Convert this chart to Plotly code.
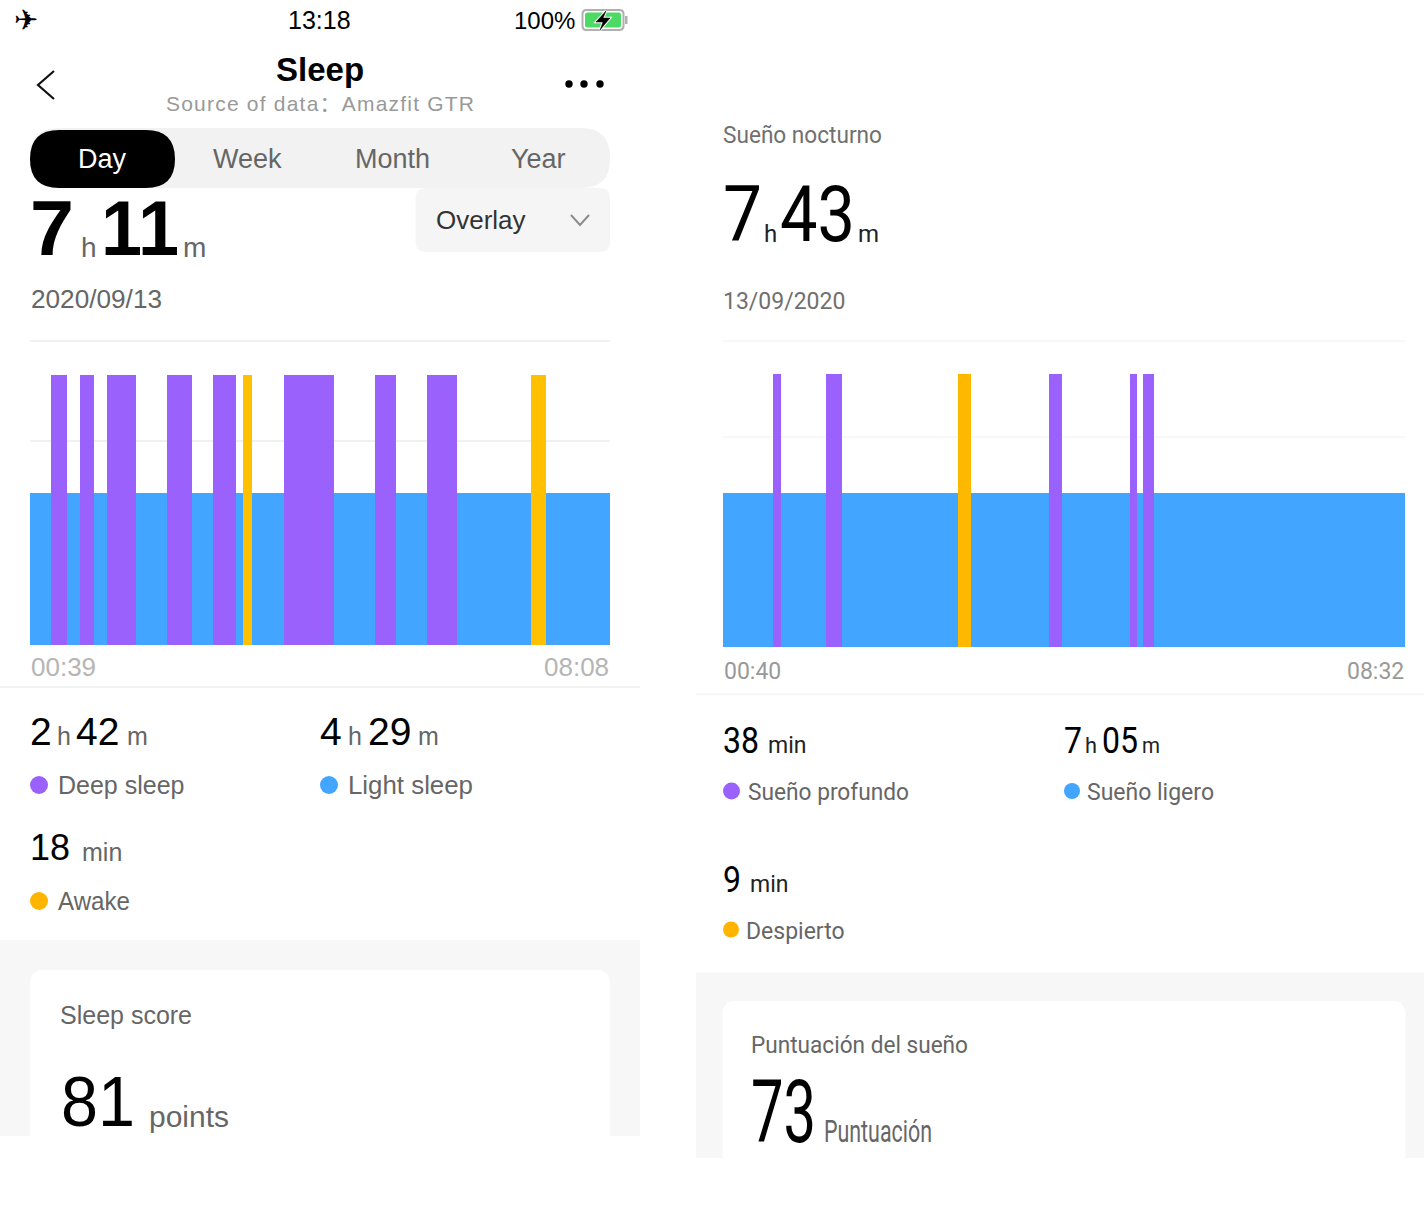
import json
import plotly.graph_objects as go

W, H = 1424, 1216

# ---- left chart data (clock minutes after midnight) ----
left_range = [39, 488]
left_ticks = ["00:39", "08:08"]
left_light_start = [39]
left_light_end = [488]
left_deep_start = [55.3, 77.7, 98.5, 145.0, 180.7, 235.6, 306.0, 346.3]
left_deep_end = [67.6, 88.5, 121.0, 164.3, 198.4, 274.3, 322.3, 369.6]
left_awake_start = [203.8, 426.8]
left_awake_end = [210.7, 438.5]
left_levels = {"light": 1.5, "deep": 2.665, "awake": 2.665}
left_grid = [2.018, 3]

# ---- right chart data ----
right_range = [40, 512]
right_ticks = ["00:40", "08:32"]
right_light_start = [40]
right_light_end = [512]
right_deep_start = [74.9, 111.3, 265.6, 321.5, 330.5]
right_deep_end = [80.0, 122.5, 274.6, 326.4, 338.5]
right_awake_start = [202.4]
right_awake_end = [211.6]
right_levels = {"light": 1.507, "deep": 2.68, "awake": 2.68}
right_grid = [2.06, 3]

PURPLE, BLUE, YELLOW = "#9B61FD", "#42A5FF", "#FFC000"
L_FONT = "Liberation Sans"
R_FONT = "Roboto"


def px(x):
    return x / W


def py(y):
    return 1 - y / H


fig = go.Figure()


def add_bars(starts, ends, level, color, name, xa, ya):
    fig.add_trace(go.Bar(
        x=starts, y=[level] * len(starts), width=[e - s for s, e in zip(starts, ends)],
        offset=0, marker=dict(color=color, line=dict(width=0)), name=name,
        xaxis=xa, yaxis=ya, showlegend=False))


add_bars(left_light_start, left_light_end, left_levels["light"], BLUE, "Light sleep", "x", "y")
add_bars(left_deep_start, left_deep_end, left_levels["deep"], PURPLE, "Deep sleep", "x", "y")
add_bars(left_awake_start, left_awake_end, left_levels["awake"], YELLOW, "Awake", "x", "y")
add_bars(right_light_start, right_light_end, right_levels["light"], BLUE, "Sueño ligero", "x2", "y2")
add_bars(right_deep_start, right_deep_end, right_levels["deep"], PURPLE, "Sueño profundo", "x2", "y2")
add_bars(right_awake_start, right_awake_end, right_levels["awake"], "#FFB800", "Despierto", "x2", "y2")

shapes = []


def rrect(x0, y0, x1, y1, r, fill):
    a = lambda x: f"{px(x):.5f}"
    b = lambda y: f"{py(y):.5f}"
    path = (f"M {a(x0 + r)} {b(y0)} L {a(x1 - r)} {b(y0)} Q {a(x1)} {b(y0)} {a(x1)} {b(y0 + r)} "
            f"L {a(x1)} {b(y1 - r)} Q {a(x1)} {b(y1)} {a(x1 - r)} {b(y1)} "
            f"L {a(x0 + r)} {b(y1)} Q {a(x0)} {b(y1)} {a(x0)} {b(y1 - r)} "
            f"L {a(x0)} {b(y0 + r)} Q {a(x0)} {b(y0)} {a(x0 + r)} {b(y0)} Z")
    shapes.append(dict(type="path", path=path, xref="paper", yref="paper", fillcolor=fill,
                       line=dict(width=0), layer="below"))


def rect(x0, y0, x1, y1, fill):
    shapes.append(dict(type="rect", xref="paper", yref="paper", x0=px(x0), x1=px(x1), y0=py(y1), y1=py(y0),
                       fillcolor=fill, line=dict(width=0), layer="below"))


def dot(cx, cy, r, fill):
    shapes.append(dict(type="circle", xref="paper", yref="paper", x0=px(cx - r), x1=px(cx + r),
                       y0=py(cy + r), y1=py(cy - r), fillcolor=fill, line=dict(width=0), layer="above"))


def poly(pts, color, width, fill=None):
    path = "M " + " L ".join(f"{px(x):.5f} {py(y):.5f}" for x, y in pts)
    if fill:
        path += " Z"
    shapes.append(dict(type="path", path=path, xref="paper", yref="paper",
                       line=dict(color=color, width=width), fillcolor=fill or "rgba(0,0,0,0)", layer="above"))


# top segmented control and drop-down
rrect(30, 128, 610, 188, 29, "#F2F2F2")
rrect(30, 130, 175, 188, 29, "#000000")
rrect(415.5, 188, 610, 252, 11, "#F5F5F5")
poly([(571, 215), (580, 225), (589, 215)], "#8C8C8C", 2)
poly([(54, 71), (38, 85), (54, 99)], "#111111", 2.2)
for cx in (569, 584, 600):
    dot(cx, 84, 3.7, "#000000")

# battery
rrect(581.5, 9, 624.5, 31, 5, "#B0B0B0")
rrect(583.5, 11, 622.5, 29, 3.5, "#FFFFFF")
rrect(585, 12.5, 621, 27.5, 2.5, "#4CD964")
rect(625, 16, 627.5, 24, "#B0B0B0")
BOLT = [(606, 11), (596, 22), (603, 22), (600, 30), (610, 18), (603, 18)]
poly(BOLT, "#FFFFFF", 2.5, "#FFFFFF")
poly(BOLT, "#000000", 0.5, "#000000")

# separators
rect(0, 686, 640, 688, "#F1F1F1")
rect(696, 693.5, 1424, 695, "#F6F6F6")

# score cards
rect(0, 940, 640, 1136, "#F7F7F7")
rrect(30, 970, 610, 1150, 14, "#FFFFFF")
rect(0, 1136, 640, 1216, "#FFFFFF")
rect(696, 972.5, 1424, 1158, "#F7F7F7")
rrect(722.5, 1001, 1405.5, 1175, 14, "#FFFFFF")
rect(696, 1158, 1424, 1216, "#FFFFFF")

# legend dots
dot(39, 785, 9, PURPLE)
dot(329, 785, 9, BLUE)
dot(39, 901, 9, "#FFB400")
dot(731.5, 791, 8.5, PURPLE)
dot(1072, 791, 8, BLUE)
dot(731, 929.5, 8, "#FFB400")

ann = []
widths = {}


def t(x, y, text, size, color="#000000", font=L_FONT, anchor="left", w=None, adjust="spacingAndGlyphs"):
    if w:
        widths[str(len(ann))] = [w, adjust]
    ann.append(dict(x=px(x), y=py(y), xref="paper", yref="paper", text=text, showarrow=False,
                    xanchor=anchor, yanchor="middle", align=anchor, borderpad=0,
                    font=dict(size=size, color=color, family=font)))


GRAY = "#666666"
# status bar
t(13, 20, "✈", 29, "#000000", "DejaVu Sans")
t(319.5, 20, "13:18", 25, anchor="center")
t(576, 20, "100%", 24, anchor="right")
# header
t(320, 70, "<b>Sleep</b>", 33, anchor="center")
t(304.5, 104, "Source of data：Amazfit GTR", 21, "#999999", "Liberation Sans, Noto Sans CJK SC", anchor="center",
  w=308, adjust="spacing")
t(102.5, 159, "Day", 27, "#FFFFFF", anchor="center")
t(247.5, 159, "Week", 27, GRAY, anchor="center")
t(392.5, 159, "Month", 27, GRAY, anchor="center")
t(538, 159, "Year", 27, GRAY, anchor="center")
t(435, 220, "Overlay", 26, "#333333")
# left total
t(29, 227.5, "<b>7</b>", 78, w=44)
t(80, 247, "h", 28, GRAY)
t(100, 227.5, "<b>11</b>", 78, w=78)
t(182, 247, "m", 28, GRAY)
t(30, 299, "2020/09/13", 25, GRAY, w=131)
# left stats
t(29, 731, "2", 39)
t(56, 736, "h", 25, GRAY)
t(75, 731, "42", 39)
t(126, 736, "m", 25, GRAY)
t(319, 731, "4", 39)
t(347, 736, "h", 25, GRAY)
t(367, 731, "29", 39)
t(417, 736, "m", 25, GRAY)
t(57, 785, "Deep sleep", 25, GRAY)
t(347, 785, "Light sleep", 25, GRAY, w=125)
t(29, 848, "18", 37, w=40)
t(81, 852, "min", 25, GRAY)
t(57, 901, "Awake", 25, GRAY, w=72)
t(59, 1015, "Sleep score", 25, GRAY)
t(60, 1102, "81", 70, w=74)
t(148, 1117, "points", 29, GRAY, w=80)
# right header
t(722, 136, "Sueño nocturno", 23, "#707070", R_FONT, w=159)
t(722, 215, "7", 77, "#000000", R_FONT, w=39)
t(763, 234, "h", 24, "#222222", R_FONT)
t(779, 215, "43", 77, "#000000", R_FONT, w=75)
t(857, 234, "m", 24, "#222222", R_FONT)
t(722, 301, "13/09/2020", 23, "#707070", R_FONT)
# right stats
t(722, 741, "38", 36, "#000000", R_FONT, w=36)
t(767, 745, "min", 23, "#222222", R_FONT)
t(1063, 741, "7", 36, "#000000", R_FONT, w=18)
t(1084, 745, "h", 22, "#222222", R_FONT, w=12)
t(1101, 741, "05", 36, "#000000", R_FONT, w=36)
t(1141, 745, "m", 22, "#222222", R_FONT, w=18)
t(747, 792, "Sueño profundo", 23, "#666666", R_FONT, w=161)
t(1086, 792, "Sueño ligero", 23, "#666666", R_FONT, w=127)
t(722, 880, "9", 36, "#000000", R_FONT, w=18)
t(749, 884, "min", 23, "#222222", R_FONT)
t(745, 931, "Despierto", 23, "#666666", R_FONT)
t(750, 1045, "Puntuación del sueño", 23, "#666666", R_FONT, w=217)
t(750, 1112, "73", 87, "#000000", R_FONT, w=65)
t(823, 1131, "Puntuación", 31, "#666666", R_FONT, w=108)

# axis end labels placed from the data ranges
for xa, rng, labels, ypx, col, font in (("x", left_range, left_ticks, 667, "#B5B5B5", L_FONT),
                                        ("x2", right_range, right_ticks, 671, "#999999", R_FONT)):
    size = 26 if xa == "x" else 23
    for v, lab, anc in zip(rng, labels, ("left", "right")):
        ann.append(dict(x=v, xref=xa, y=py(ypx), yref="paper", text=lab, showarrow=False,
                        xanchor=anc, yanchor="middle", borderpad=0,
                        font=dict(size=size, color=col, family=font)))

axis_x = dict(showgrid=False, zeroline=False, showticklabels=False, ticks="", fixedrange=True)


def axis_y(grid, color, top, domain, anchor):
    return dict(range=[0, top], tickvals=grid, showticklabels=False, ticks="", showgrid=True,
                gridcolor=color, gridwidth=1.5, zeroline=False, domain=domain, anchor=anchor)


fig.update_layout(
    width=W, height=H, margin=dict(l=0, r=0, t=0, b=0), autosize=False,
    paper_bgcolor="#FFFFFF", plot_bgcolor="rgba(0,0,0,0)",
    barmode="overlay", bargap=0, showlegend=False,
    xaxis=dict(axis_x, domain=[px(30), px(610)], range=left_range, anchor="y"),
    xaxis2=dict(axis_x, domain=[px(723), px(1405)], range=right_range, anchor="y2"),
    yaxis=axis_y(left_grid, "#F0F0F0", 3.06, [py(645), py(335)], "x"),
    yaxis2=axis_y(right_grid, "#F8F8F8", 3.059, [py(647), py(335)], "x2"),
    shapes=shapes, annotations=ann,
)

post = """
document.body.style.margin='0';document.documentElement.style.overflow='hidden';
var TW=%s;
document.querySelectorAll('g.annotation').forEach(function(g){
  var spec=TW[g.getAttribute('data-index')]; if(!spec) return;
  var e=g.querySelector('text.annotation-text'); if(!e) return;
  var left=e.getBBox().x;
  e.setAttribute('textLength',spec[0]); e.setAttribute('lengthAdjust',spec[1]);
  var now=e.getBBox().x;
  e.setAttribute('x',parseFloat(e.getAttribute('x'))+(left-now));
  var bg=g.querySelector('rect.bg');
  if(bg){var b=e.getBBox(); bg.setAttribute('x',b.x); bg.setAttribute('width',b.width);}
});
""" % json.dumps(widths)

fig.write_html("out.html", post_script=post, config={"displayModeBar": False})
